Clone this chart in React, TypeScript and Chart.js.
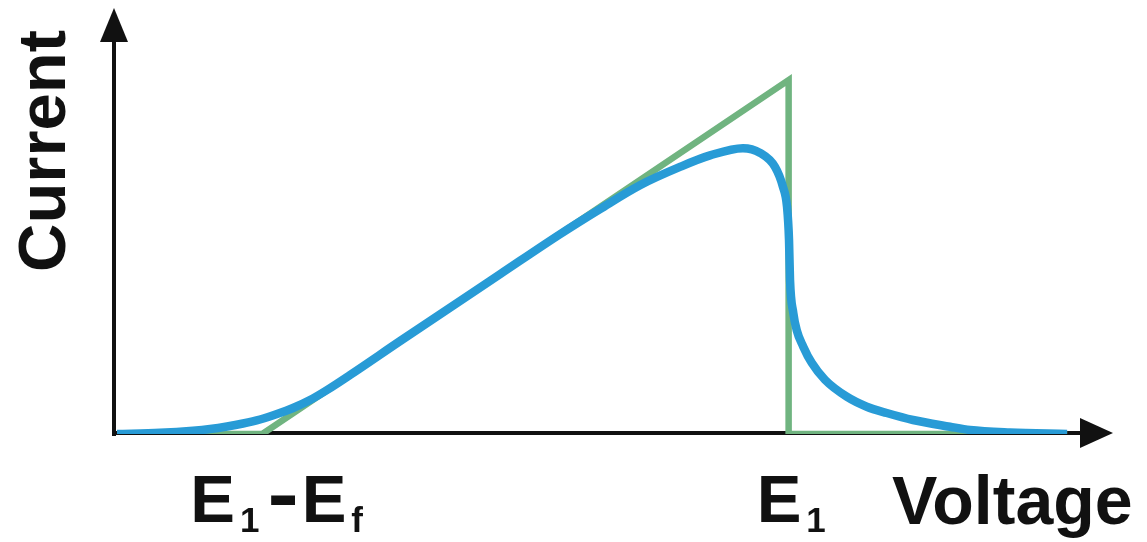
import React, { useEffect, useRef } from 'react';
import { Chart, registerables } from 'chart.js';

Chart.register(...registerables);

// Potential markers (arbitrary voltage units)
const E1 = 6.75;
const Ef = 5.29;
const peakCurrent = 8.31;

// Idealised triangular response
const idealVoltage = [0, E1 - Ef, E1, E1, 9.55];
const idealCurrent = [0, 0, peakCurrent, 0, 0];

// Measured (smooth) response
const measuredVoltage = [
  0, 0.432, 0.764, 0.935, 1.106, 1.266, 1.437, 1.608, 1.769, 1.94, 2.111, 2.342,
  2.844, 3.849, 4.452, 4.854, 5.256, 5.658, 5.96, 6.291, 6.462, 6.613, 6.693, 6.734,
  6.754, 6.764, 6.797, 6.831, 6.897, 6.982, 7.116, 7.334, 7.535, 7.736, 8.0,
  8.372, 8.573, 8.975, 9.548,
];
const measuredCurrent = [
  0, 0.028, 0.077, 0.117, 0.176, 0.246, 0.34, 0.469, 0.61, 0.798, 1.033, 1.385,
  2.18, 3.75, 4.69, 5.28, 5.84, 6.27, 6.54, 6.71, 6.6, 6.27, 5.8, 5.33,
  4.55, 3.62, 2.84, 2.44, 2.05, 1.67, 1.27, 0.876, 0.641, 0.493, 0.329,
  0.171, 0.094, 0.035, 0,
];

// Axis tick positions and their labels (pieces flagged as subscripts)
const tickValues = [E1 - Ef, E1];
const tickLabels = [
  [{ t: 'E' }, { t: '1', sub: true }, { t: '-' }, { t: 'E' }, { t: 'f', sub: true }],
  [{ t: 'E' }, { t: '1', sub: true }],
];
const xTitle = 'Voltage';
const yTitle = 'Current';

const GREEN = 'rgb(112, 180, 128)';
const BLUE = 'rgb(40, 155, 214)';
const FONT = '"Liberation Sans", Arial, Helvetica, sans-serif';

const arrowAxes = {
  id: 'arrowAxes',
  beforeDatasetsDraw(chart: any) {
    const { ctx, chartArea, scales } = chart;
    const ox = scales.x.getPixelForValue(0) - 3;
    const oy = scales.y.getPixelForValue(0) - 1;
    const top = chartArea.top;
    const right = chartArea.right + 1;
    ctx.save();
    ctx.fillStyle = '#111';
    ctx.strokeStyle = '#111';
    ctx.lineWidth = 4;
    ctx.lineCap = 'butt';
    // y axis with arrow head
    ctx.beginPath();
    ctx.moveTo(ox, oy + 3);
    ctx.lineTo(ox, top + 32);
    ctx.stroke();
    ctx.beginPath();
    ctx.moveTo(ox, top);
    ctx.lineTo(ox - 14, top + 34);
    ctx.lineTo(ox + 14, top + 34);
    ctx.closePath();
    ctx.fill();
    // x axis with arrow head
    ctx.beginPath();
    ctx.moveTo(ox - 2, oy);
    ctx.lineTo(right - 31, oy);
    ctx.stroke();
    ctx.beginPath();
    ctx.moveTo(right, oy);
    ctx.lineTo(right - 33, oy - 15);
    ctx.lineTo(right - 33, oy + 15);
    ctx.closePath();
    ctx.fill();
    ctx.restore();
  },
  afterDraw(chart: any) {
    const { ctx, scales } = chart;
    ctx.save();
    ctx.fillStyle = '#111';
    ctx.textAlign = 'left';
    ctx.textBaseline = 'alphabetic';
    const bigFont = `bold 67px ${FONT}`;
    const subFont = `bold 35px ${FONT}`;
    const starts = [-72, -32];
    tickValues.forEach((v, i) => {
      let x = scales.x.getPixelForValue(v) + starts[i];
      let prevDash = false;
      tickLabels[i].forEach((p: any, j: number) => {
        if (j > 0) x += prevDash ? 3 : p.sub ? 5 : 8;
        ctx.font = p.sub ? subFont : bigFont;
        const w = ctx.measureText(p.t).width;
        if (p.t === '-') {
          // widened, slightly heavier dash between the two potentials
          ctx.save();
          ctx.translate(x, 521);
          ctx.scale(1.4, 1.2);
          ctx.fillText(p.t, 0, 0);
          ctx.restore();
          x += w * 1.4;
          prevDash = true;
        } else {
          ctx.fillText(p.t, x, p.sub ? 532 : 522);
          x += w;
          prevDash = false;
        }
      });
    });
    ctx.font = `bold 68px ${FONT}`;
    ctx.fillText(xTitle, 892, 524);
    ctx.font = bigFont;
    ctx.translate(65, 151);
    ctx.rotate(-Math.PI / 2);
    ctx.textAlign = 'center';
    ctx.fillText(yTitle, 0, 0);
    ctx.restore();
  },
};

export default function App() {
  const ref = useRef<HTMLCanvasElement>(null);

  useEffect(() => {
    if (!ref.current) return;
    const chart = new Chart(ref.current, {
      type: 'scatter',
      data: {
        datasets: [
          {
            data: measuredVoltage.map((x, i) => ({ x, y: measuredCurrent[i] })),
            showLine: true,
            borderColor: BLUE,
            borderWidth: 8.5,
            pointRadius: 0,
            cubicInterpolationMode: 'monotone',
            borderCapStyle: 'butt',
          },
          {
            data: idealVoltage.map((x, i) => ({ x, y: idealCurrent[i] })),
            showLine: true,
            borderColor: GREEN,
            borderWidth: 6.5,
            pointRadius: 0,
            tension: 0,
            borderJoinStyle: 'miter',
            borderCapStyle: 'butt',
          },
        ],
      },
      options: {
        animation: false,
        responsive: false,
        layout: { padding: { left: 117, right: 35, top: 8, bottom: 108 } },
        scales: {
          x: { type: 'linear', min: 0, max: 10, display: false },
          y: { type: 'linear', min: 0, max: 10, display: false },
        },
        plugins: { legend: { display: false }, tooltip: { enabled: false } },
      },
      plugins: [arrowAxes],
    } as any);
    return () => chart.destroy();
  }, []);

  return (
    <div style={{ position: 'fixed', left: 0, top: 0, width: 1147, height: 542, background: '#fff' }}>
      <canvas ref={ref} width={1147} height={542} />
    </div>
  );
}
